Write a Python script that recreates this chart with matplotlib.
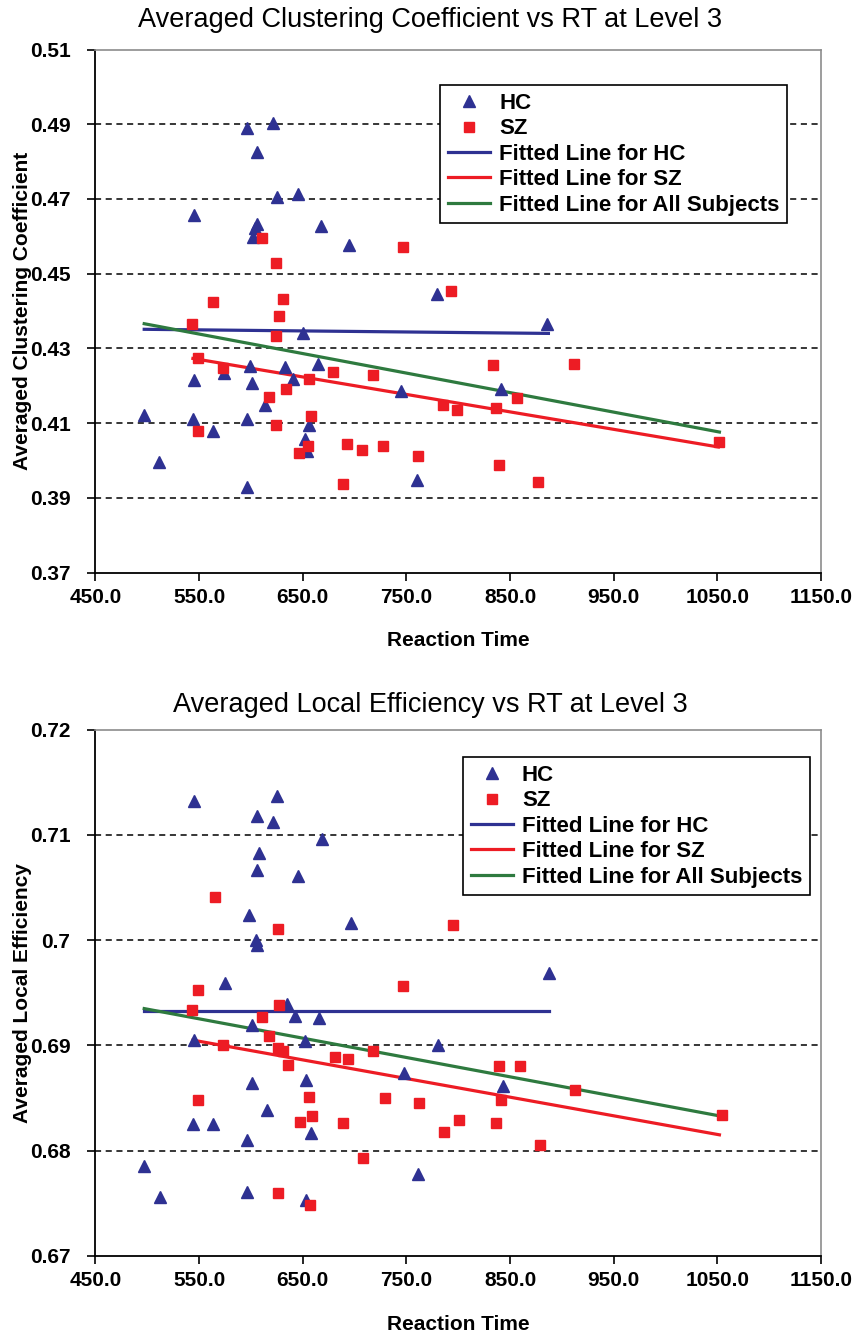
import matplotlib
matplotlib.use("Agg")
import matplotlib.pyplot as plt
from matplotlib.lines import Line2D

# ---------------- data: top chart (Averaged Clustering Coefficient) ----------------
cc_hc_rt = [596, 621, 605.6, 624.9, 645.2, 545.4, 605.6, 604, 602.3, 667.7,
            497.1, 511.6, 545.4, 543.8, 563.1, 574.3, 596.5, 595.9, 599.1, 600.7,
            613.6, 632.9, 640.9, 650, 664.5, 656.4, 652.2, 653.9, 695, 779.3,
            886.1, 744.6, 841.1, 759.9]
cc_hc_val = [0.4891, 0.4903, 0.4826, 0.4705, 0.4714, 0.4656, 0.4634, 0.4621, 0.4598, 0.4627,
             0.4121, 0.3996, 0.4216, 0.4112, 0.4079, 0.4233, 0.3929, 0.4110, 0.4252, 0.4207,
             0.4148, 0.4250, 0.4219, 0.4340, 0.4259, 0.4094, 0.4058, 0.4025, 0.4576, 0.4445,
             0.4366, 0.4187, 0.4190, 0.3947]
cc_sz_rt = [611, 624.2, 563.7, 630.7, 627.4, 543.1, 624.2, 548.6, 573.4, 679.5,
            656.1, 633.9, 617.8, 657.7, 623.9, 548.6, 655.4, 646.4, 689, 747.1,
            793.2, 718.1, 834, 911.2, 856.4, 785.7, 799.2, 836.3, 693, 707,
            727.8, 761, 839.5, 877.4, 1051.2]
cc_sz_val = [0.4596, 0.4529, 0.4423, 0.4431, 0.4387, 0.4366, 0.4333, 0.4273, 0.4248, 0.4237,
             0.4219, 0.4192, 0.4170, 0.4118, 0.4096, 0.4078, 0.4038, 0.4020, 0.3938, 0.4571,
             0.4453, 0.4228, 0.4255, 0.4259, 0.4166, 0.4148, 0.4136, 0.4141, 0.4045, 0.4029,
             0.4038, 0.4011, 0.3989, 0.3941, 0.4049]
cc_fit_hc_rt = [497, 887]
cc_fit_hc_val = [0.4351, 0.4340]
cc_fit_sz_rt = [544, 1051]
cc_fit_sz_val = [0.4273, 0.4036]
cc_fit_all_rt = [497, 1052]
cc_fit_all_val = [0.4366, 0.4076]

# ---------------- data: bottom chart (Averaged Local Efficiency) ----------------
le_hc_rt = [545.4, 624.9, 606.2, 621.6, 668.3, 607.8, 606.2, 645.2, 598.2, 604.6,
            605.6, 575, 634.5, 642.6, 666, 600.7, 545.4, 652.2, 600.7, 653.2,
            615.3, 543.8, 563.7, 658, 595.9, 497.1, 512.3, 595.9, 652.9, 696.6,
            887.1, 780.9, 747.8, 843, 761.6]
le_hc_val = [0.7132, 0.7137, 0.7118, 0.7112, 0.7096, 0.7083, 0.7067, 0.7061, 0.7024, 0.7000,
             0.6995, 0.6959, 0.6939, 0.6928, 0.6926, 0.6919, 0.6905, 0.6904, 0.6864, 0.6867,
             0.6839, 0.6825, 0.6825, 0.6817, 0.6810, 0.6785, 0.6756, 0.6761, 0.6753, 0.7016,
             0.6969, 0.6900, 0.6874, 0.6861, 0.6778]
le_sz_rt = [565.3, 625.8, 549.2, 542.9, 627.4, 611, 617.8, 573.4, 626.4, 630.7,
            635.5, 681.2, 549.2, 656.1, 659.3, 647.7, 625.8, 657.1, 794.8, 747.1,
            694, 718.1, 839.5, 859.8, 841.1, 912.8, 729.4, 762.5, 689.2, 801.2,
            786.7, 836.3, 879, 708.5, 1054.5]
le_sz_val = [0.7041, 0.7011, 0.6953, 0.6934, 0.6938, 0.6927, 0.6909, 0.6900, 0.6898, 0.6895,
             0.6881, 0.6889, 0.6848, 0.6851, 0.6833, 0.6827, 0.6760, 0.6748, 0.7014, 0.6956,
             0.6887, 0.6895, 0.6880, 0.6880, 0.6848, 0.6858, 0.6850, 0.6845, 0.6826, 0.6829,
             0.6818, 0.6826, 0.6805, 0.6793, 0.6834]
le_fit_hc_rt = [497, 888]
le_fit_hc_val = [0.6933, 0.6933]
le_fit_sz_rt = [544, 1052]
le_fit_sz_val = [0.6905, 0.6815]
le_fit_all_rt = [497, 1052]
le_fit_all_val = [0.6935, 0.6833]

# ---------------- axis / text ----------------
x_ticks = [450, 550, 650, 750, 850, 950, 1050, 1150]
x_tick_labels = ["450.0", "550.0", "650.0", "750.0", "850.0", "950.0", "1050.0", "1150.0"]
cc_y_ticks = [0.37, 0.39, 0.41, 0.43, 0.45, 0.47, 0.49, 0.51]
cc_y_tick_labels = ["0.37", "0.39", "0.41", "0.43", "0.45", "0.47", "0.49", "0.51"]
le_y_ticks = [0.67, 0.68, 0.69, 0.70, 0.71, 0.72]
le_y_tick_labels = ["0.67", "0.68", "0.69", "0.7", "0.71", "0.72"]
legend_labels = ["HC", "SZ", "Fitted Line for HC", "Fitted Line for SZ", "Fitted Line for All Subjects"]

C_HC = "#2E3192"
C_SZ = "#ED1C24"
C_ALL = "#2E7A3F"

plt.rcParams["font.family"] = ["Liberation Sans", "DejaVu Sans"]

W, H = 853, 1335
fig = plt.figure(figsize=(W / 100, H / 100), dpi=100)

FS = 15  # bold axis text size
FS_LEG = 16
FS_TITLE = 19.5


def axes_px(left, top, right, bottom):
    return fig.add_axes([left / W, 1 - bottom / H, (right - left) / W, (bottom - top) / H])


def draw(ax, hc_rt, hc_val, sz_rt, sz_val, fhc, fsz, fall, yticks, ylabels, ylim,
         ylabel, title, title_y, xlabel_y, leg_anchor):
    ax.set_xlim(450, 1150)
    ax.set_ylim(*ylim)
    for yv in yticks[1:-1]:
        ax.axhline(yv, color="black", lw=1.1, ls=(0, (4, 3)), zorder=1)
    ax.plot(hc_rt, hc_val, ls="none", marker="^", ms=9, color=C_HC, mec=C_HC, zorder=3)
    ax.plot(sz_rt, sz_val, ls="none", marker="s", ms=7.2, color=C_SZ, mec=C_SZ, zorder=3)
    ax.plot(fhc[0], fhc[1], color=C_HC, lw=2.3, zorder=2)
    ax.plot(fsz[0], fsz[1], color=C_SZ, lw=2.3, zorder=2)
    ax.plot(fall[0], fall[1], color=C_ALL, lw=2.3, zorder=2)

    ax.set_xticks(x_ticks)
    ax.set_xticklabels(x_tick_labels, fontsize=FS, fontweight="bold")
    ax.set_yticks(yticks)
    ax.set_yticklabels(ylabels, fontsize=FS, fontweight="bold")
    ax.tick_params(axis="both", direction="out", length=6, width=1.2, color="black")
    ax.tick_params(axis="x", pad=5)
    ax.tick_params(axis="y", pad=12)
    for s in ["left", "bottom"]:
        ax.spines[s].set_color("black")
        ax.spines[s].set_linewidth(1.3)
    for s in ["top", "right"]:
        ax.spines[s].set_color("#8C8C8C")
        ax.spines[s].set_linewidth(1.2)

    ax.set_ylabel(ylabel, fontsize=FS, fontweight="bold")
    ax.yaxis.set_label_coords(-0.088, 0.5)
    fig.text(0.504, 1 - title_y / H, title, fontsize=FS_TITLE, ha="center", va="center")
    fig.text(458 / W, 1 - xlabel_y / H, "Reaction Time", fontsize=FS,
             fontweight="bold", ha="center", va="center")

    handles = [
        Line2D([], [], ls="none", marker="^", ms=8.5, color=C_HC),
        Line2D([], [], ls="none", marker="s", ms=7, color=C_SZ),
        Line2D([], [], color=C_HC, lw=2.3),
        Line2D([], [], color=C_SZ, lw=2.3),
        Line2D([], [], color=C_ALL, lw=2.3),
    ]
    leg = ax.legend(handles, legend_labels, loc="upper left", bbox_to_anchor=leg_anchor,
                    prop={"size": FS_LEG, "weight": "bold"}, frameon=True, fancybox=False,
                    edgecolor="black", framealpha=1, handlelength=1.9, handletextpad=0.4,
                    labelspacing=0.2, borderpad=0.35, borderaxespad=0)
    leg.get_frame().set_linewidth(1.2)


ax1 = axes_px(95.5, 49.5, 821, 572.5)
draw(ax1, cc_hc_rt, cc_hc_val, cc_sz_rt, cc_sz_val,
     (cc_fit_hc_rt, cc_fit_hc_val), (cc_fit_sz_rt, cc_fit_sz_val), (cc_fit_all_rt, cc_fit_all_val),
     cc_y_ticks, cc_y_tick_labels, (0.37, 0.51), "Averaged Clustering Coefficient",
     "Averaged Clustering Coefficient vs RT at Level 3", 20, 640, (0.475, 0.932))

ax2 = axes_px(95.5, 729.8, 821, 1255.8)
draw(ax2, le_hc_rt, le_hc_val, le_sz_rt, le_sz_val,
     (le_fit_hc_rt, le_fit_hc_val), (le_fit_sz_rt, le_fit_sz_val), (le_fit_all_rt, le_fit_all_val),
     le_y_ticks, le_y_tick_labels, (0.67, 0.72), "Averaged Local Efficiency",
     "Averaged Local Efficiency vs RT at Level 3", 705, 1325, (0.5066, 0.948))

fig.savefig("out.png", dpi=100)
